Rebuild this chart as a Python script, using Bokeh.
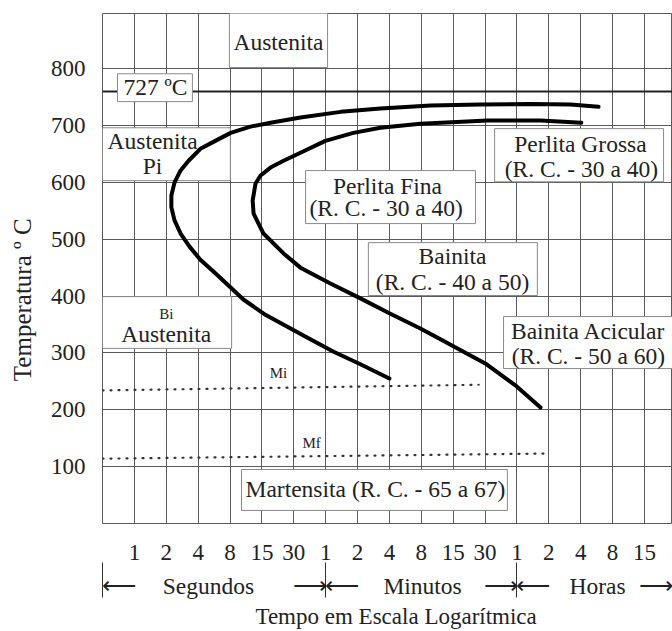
from bokeh.plotting import figure
from bokeh.models import Range1d, FixedTicker, LinearAxis, Grid
from bokeh.core.properties import value
from bokeh.embed import file_html
from bokeh.resources import INLINE

# ---------------- data ----------------
# x = position on the logarithmic time scale (one grid step per label)
time_pos = list(range(1, 18))
time_labels = ["1", "2", "4", "8", "15", "30",
               "1", "2", "4", "8", "15", "30",
               "1", "2", "4", "8", "15"]
temp_ticks = [100, 200, 300, 400, 500, 600, 700, 800]

# start-of-transformation curve (outer C)
start_x = [15.56, 14.68, 13.43, 11.86, 10.29, 8.72, 7.47, 6.21, 5.27, 4.64,
           4.02, 3.54, 3.07, 2.70, 2.45, 2.26, 2.16, 2.16, 2.26, 2.45,
           2.73, 3.07, 3.54, 4.02, 4.42, 5.11, 5.90, 6.52, 7.25, 8.09, 9.00]
start_t = [733, 737, 738, 737, 735, 730, 724, 714, 705, 698,
           687, 673, 659, 638, 621, 600, 577, 556, 533, 510,
           487, 464, 440, 415, 394, 367, 343, 324, 302, 280, 255]

# end-of-transformation curve (inner C)
end_x = [15.02, 13.74, 12.08, 9.97, 8.72, 7.87, 6.99, 6.21, 5.68, 5.27,
         4.96, 4.80, 4.71, 4.74, 5.05, 5.68, 6.21, 7.15, 8.09, 9.03,
         9.97, 10.60, 12.05, 12.95, 13.74]
end_t = [705, 709, 709, 703, 696, 687, 673, 652, 638, 626,
         612, 598, 568, 545, 510, 475, 450, 422, 396, 369,
         343, 324, 280, 243, 204]

# martensite start / finish (dotted)
mi_x = [0.0, 11.8]
mi_t = [234, 244]
mf_x = [0.0, 13.9]
mf_t = [114, 123]

# eutectoid line (drawn position) and its label
a1_t = 760
a1_label = "727 ºC"

# region boxes: left, right, bottom, top
box_left = [3.98, 0.47, 0.0, 0.0, 12.3, 6.37, 8.34, 12.58, 4.36]
box_right = [7.06, 2.82, 4.01, 4.05, 17.6, 11.7, 13.64, 18.5, 12.7]
box_bottom = [802, 742, 603, 308, 601, 527.5, 401, 272.5, 23]
box_top = [900, 791, 696, 399, 694.5, 620.7, 494, 364, 95]

# texts inside boxes
txt = ["Austenita", a1_label, "Austenita", "Pi", "Austenita",
       "Perlita Grossa", "(R. C. - 30 a 40)",
       "Perlita Fina", "(R. C. - 30 a 40)",
       "Bainita", "(R. C. - 40 a 50)",
       "Bainita Acicular", "(R. C. - 50 a 60)",
       "Martensita (R. C. - 65 a 67)"]
txt_x = [5.52, 1.66, 1.57, 1.57, 2.0, 14.99, 15.02, 8.94, 8.9, 10.98, 10.98,
         15.24, 15.24, 8.56]
txt_y = [846, 767, 673, 629, 334, 668, 624, 594, 555.6, 471, 424,
         339, 295, 61.5]

small_txt = ["Bi", "Mi", "Mf"]
small_x = [2.0, 5.52, 6.56]
small_y = [369, 265, 142]

# time-unit row: names, arrows and separators
unit_names = ["Segundos", "Minutos", "Horas"]
unit_pos = [3.32, 10.04, 15.53]
arrow_txt = ["\u27f5", "\u27f6", "\u27f5", "\u27f6", "\u27f5", "\u27f6"]
arrow_pos = [0.53, 6.52, 7.52, 12.49, 13.5, 17.38]
unit_bounds = [0, 7, 13]

FONT = "Liberation Serif"
INK = "#222222"
GRID = "#5a5a5a"
FS = "23.5px"

p = figure(width=672, height=631, output_backend="svg", toolbar_location=None,
           x_range=Range1d(0, 17.88), y_range=Range1d(0, 897),
           min_border_left=102, min_border_right=0, min_border_top=13,
           min_border_bottom=108, x_axis_location=None, y_axis_location=None)
p.outline_line_color = GRID
p.outline_line_width = 1
p.background_fill_color = "white"
p.border_fill_color = "white"

# y axis
yax = LinearAxis(ticker=FixedTicker(ticks=temp_ticks))
yax.axis_line_color = None
yax.major_tick_line_color = None
yax.minor_tick_line_color = None
yax.major_label_standoff = 11
yax.major_label_text_font = FONT
yax.major_label_text_font_size = "23px"
yax.major_label_text_color = INK
yax.axis_label = "Temperatura º C" + "\u00a0" * 10
yax.axis_label_text_font = FONT
yax.axis_label_text_font_size = "25px"
yax.axis_label_text_font_style = "normal"
yax.axis_label_text_color = INK
yax.axis_label_standoff = 12
p.add_layout(yax, "left")

# x axis (time labels)
xax = LinearAxis(ticker=FixedTicker(ticks=time_pos))
xax.axis_line_color = None
xax.major_tick_line_color = None
xax.minor_tick_line_color = None
xax.major_label_overrides = {float(k): v for k, v in zip(time_pos, time_labels)}
xax.major_label_standoff = 15
xax.major_label_text_font = FONT
xax.major_label_text_font_size = "23px"
xax.major_label_text_color = INK
p.add_layout(xax, "below")

# second x axis: unit names, arrows and separators
row_pos = unit_pos + arrow_pos
row_txt = unit_names + arrow_txt
uax = LinearAxis(ticker=FixedTicker(ticks=row_pos, minor_ticks=unit_bounds))
uax.axis_line_color = None
uax.major_tick_line_color = None
uax.minor_tick_in = 0
uax.minor_tick_out = 35
uax.minor_tick_line_color = "#333333"
uax.minor_tick_line_width = 1
uax.major_label_overrides = {float(k): v for k, v in zip(row_pos, row_txt)}
uax.major_label_standoff = -25
uax.major_label_text_font = FONT
uax.major_label_text_font_size = FS
uax.major_label_text_color = INK
uax.axis_label = "\u00a0" * 3 + "Tempo em Escala Logarítmica"
uax.axis_label_text_font = FONT
uax.axis_label_text_font_size = "23px"
uax.axis_label_text_font_style = "normal"
uax.axis_label_text_color = INK
uax.axis_label_standoff = 2
p.add_layout(uax, "below")

# grid
p.xgrid.visible = False
p.ygrid.visible = False
p.add_layout(Grid(dimension=0, ticker=FixedTicker(ticks=time_pos),
                  grid_line_color=GRID, grid_line_width=1))
p.add_layout(Grid(dimension=1, ticker=FixedTicker(ticks=temp_ticks),
                  grid_line_color=GRID, grid_line_width=1))

# A1 line
p.line([0, 17.88], [a1_t, a1_t], line_color="#222222", line_width=2)

# boxes
p.quad(left=box_left, right=box_right, bottom=box_bottom, top=box_top,
       fill_color="white", line_color="#8a8a8a", line_width=1)

# texts
p.text(x=txt_x, y=txt_y, text=txt, text_font=value(FONT),
       text_font_size=FS, text_color=INK, text_align="center",
       text_baseline="middle")
p.text(x=small_x, y=small_y, text=small_txt, text_font=value(FONT),
       text_font_size="15px", text_color=INK, text_align="center",
       text_baseline="middle")

# dotted Ms / Mf
p.line(mi_x, mi_t, line_color="#333333", line_width=2.2, line_dash="1 7",
       line_cap="round")
p.line(mf_x, mf_t, line_color="#333333", line_width=2.2, line_dash="1 7",
       line_cap="round")

# transformation curves
p.line(start_x, start_t, line_color="black", line_width=4, line_join="round",
       line_cap="round")
p.line(end_x, end_t, line_color="black", line_width=4, line_join="round",
       line_cap="round")

open("out.html", "w").write(file_html(p, INLINE))
